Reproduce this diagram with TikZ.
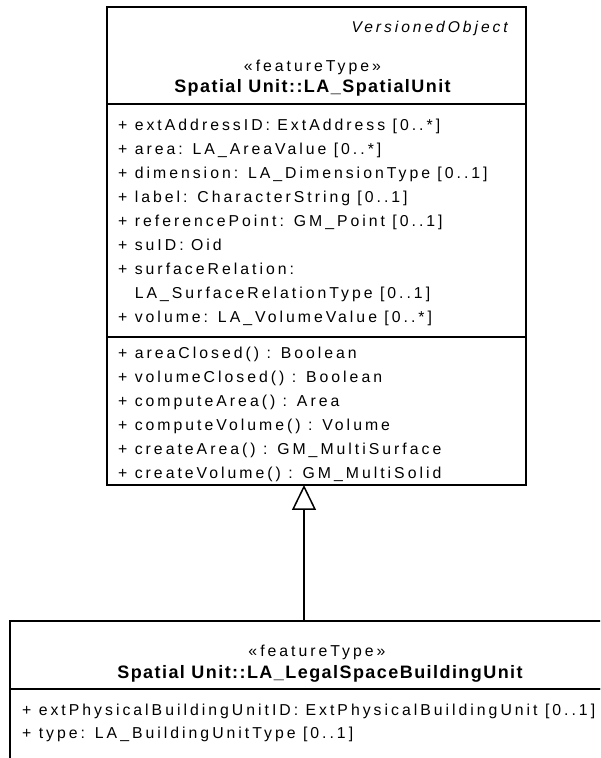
\documentclass[tikz,border=0pt]{standalone}
\usepackage{fontspec}
\setmainfont{Liberation Sans}
\newfontfamily\umlfont{Liberation Sans}[LetterSpace=19]
\newfontfamily\umltitle{Liberation Sans}[LetterSpace=8]
\usetikzlibrary{positioning,arrows.meta}

\begin{document}
\begin{tikzpicture}[
        x=1pt, y=1pt,
        compart/.style={
            draw,
            line width=1.6pt,
            minimum width=419pt,
            inner sep=0pt,
            outer sep=0pt
        },
        members/.style={
            align=left,
            inner sep=0pt,
            anchor=north west,
            font=\umlfont\fontsize{15.8}{24}\selectfont
        },
        stereo/.style={
            inner sep=0pt,
            font=\umlfont\fontsize{15.8}{18}\selectfont
        },
        classname/.style={
            inner sep=0pt,
            font=\umltitle\bfseries\fontsize{18}{21}\selectfont
        },
        gen/.style={
            -{Triangle[open, length=25pt, width=24pt]},
            line width=1.5pt
        }
    ]

    \fill[white] (0,0) rectangle (600,758);
    \useasboundingbox (0,0) rectangle (600,758);
    \clip (0,0) rectangle (600,758);

    % Spatial Unit class
    \node[compart, minimum height=97pt, anchor=north west] (suhead) at (107,751) {};
    \node[compart, minimum height=233pt, below=0pt of suhead] (suattr) {};
    \node[compart, minimum height=148pt, below=0pt of suattr] (suops) {};

    \node[stereo, font=\umlfont\itshape\fontsize{15.6}{18}\selectfont, anchor=north east,
        below left=14pt and 18pt of suhead.north east] (versioned) {VersionedObject};
    \node[stereo, below=53pt of suhead.north, xshift=-4pt] (sustereo) {«featureType»};
    \node[classname, below=72pt of suhead.north, xshift=-4pt] (suname) {Spatial Unit::LA\_SpatialUnit};

    \node[members, below right=15pt and 11pt of suattr.north west] (suattrtext) {%
        + extAddressID: ExtAddress [0..*]\\
        + area: LA\_AreaValue [0..*]\\
        + dimension: LA\_DimensionType [0..1]\\
        + label: CharacterString [0..1]\\
        + referencePoint: GM\_Point [0..1]\\
        + suID: Oid\\
        + surfaceRelation:\\
        \phantom{+}\ LA\_SurfaceRelationType [0..1]\\
        + volume: LA\_VolumeValue [0..*]};

    \node[members, below right=10pt and 11pt of suops.north west] (suopstext) {%
        + areaClosed() : Boolean\\
        + volumeClosed() : Boolean\\
        + computeArea() : Area\\
        + computeVolume() : Volume\\
        + createArea() : GM\_MultiSurface\\
        + createVolume() : GM\_MultiSolid};

    % Legal space building unit class
    \node[compart, minimum width=620pt, minimum height=68pt, anchor=north west] (lsbuhead) at (10,137) {};
    \node[compart, minimum width=620pt, minimum height=100pt, below=0pt of lsbuhead] (lsbuattr) {};

    \node[stereo, below=24pt of lsbuhead.north, xshift=-3pt] (lsbustereo) {«featureType»};
    \node[classname, below=44pt of lsbuhead.north, xshift=0pt] (lsbuname) {Spatial Unit::LA\_LegalSpaceBuildingUnit};

    \node[members, font=\umlfont\fontsize{15.8}{22.5}\selectfont,
        below right=15pt and 12pt of lsbuattr.north west] (lsbuattrtext) {%
        + extPhysicalBuildingUnitID: ExtPhysicalBuildingUnit [0..1]\\
        + type: LA\_BuildingUnitType [0..1]};

    % Generalization
    \coordinate (genx) at (304,0);
    \draw[gen] (lsbuhead.north -| genx) -- (suops.south -| genx);

\end{tikzpicture}
\end{document}
